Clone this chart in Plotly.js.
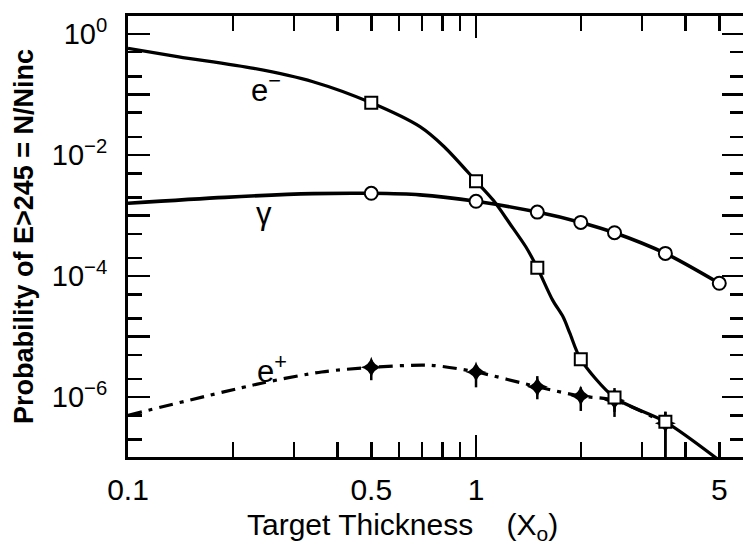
<!DOCTYPE html>
<html>
<head>
<meta charset="utf-8">
<script src="https://cdn.plot.ly/plotly-3.0.1.min.js"></script>
<style>
html,body{margin:0;padding:0;background:#fff;overflow:hidden;}
#chart{width:748px;height:546px;}
</style>
</head>
<body>
<div id="chart"></div>
<script>
// ---- data ----
// electron (e-) curve and data points
var eMinusCurveX = [0.1, 0.14, 0.23, 0.34, 0.5, 0.69, 0.81, 1, 1.12, 1.25, 1.39, 1.5, 1.66, 1.78, 1.86, 2.0, 2.5, 3.5, 5.0];
var eMinusCurveY = [0.58, 0.42, 0.27, 0.163, 0.073, 0.0294, 0.0137, 3.7e-3, 1.8e-3, 7.4e-4, 3.05e-4, 1.37e-4, 4e-5, 2.1e-5, 1.14e-5, 4.2e-6, 9.8e-7, 3.9e-7, 9e-8];
var eMinusX = [0.5, 1, 1.5, 2, 2.5, 3.5];
var eMinusY = [0.073, 3.7e-3, 1.37e-4, 4.2e-6, 9.8e-7, 3.9e-7];
var eMinusErrPlus = [0, 0, 0, 0, 4.3e-7, 1.8e-7];
var eMinusErrMinus = [0, 0, 0, 0, 4.1e-7, 3.9e-7];

// photon (gamma) curve and data points
var gammaCurveX = [0.1, 0.19, 0.34, 0.5, 0.69, 1, 1.5, 2, 2.5, 3.5, 5];
var gammaCurveY = [1.6e-3, 2.0e-3, 2.3e-3, 2.33e-3, 2.2e-3, 1.72e-3, 1.14e-3, 7.7e-4, 5.2e-4, 2.37e-4, 7.6e-5];
var gammaX = [0.5, 1, 1.5, 2, 2.5, 3.5, 5];
var gammaY = [2.33e-3, 1.72e-3, 1.14e-3, 7.7e-4, 5.2e-4, 2.37e-4, 7.6e-5];

// positron (e+) curve and data points
var ePlusCurveX = [0.1, 0.24, 0.36, 0.5, 0.74, 1, 1.5, 2, 2.5, 3.5];
var ePlusCurveY = [5.0e-7, 1.68e-6, 2.6e-6, 3.1e-6, 3.35e-6, 2.6e-6, 1.48e-6, 1.04e-6, 8.9e-7, 3.7e-7];
var ePlusX = [0.5, 1, 1.5, 2, 2.5, 3.5];
var ePlusY = [3.1e-6, 2.6e-6, 1.48e-6, 1.04e-6, 8.9e-7, 3.7e-7];
var ePlusErrPlus = [1.0e-6, 7.8e-7, 7.4e-7, 4.1e-7, 4.2e-7, 2.0e-7];
var ePlusErrMinus = [1.2e-6, 1.15e-6, 5.6e-7, 4.5e-7, 4.2e-7, 3.7e-7];

// ticks and labels
var xTickVals = [0.1, 0.5, 1, 5];
var xTickText = ['0.1', '0.5', '1', '5'];
var xLongTickVals = [1];
var xMinorTickVals = [0.2, 0.3, 0.4, 0.6, 0.7, 0.8, 0.9, 2, 3, 4];
var yTickVals = [1, 1e-2, 1e-4, 1e-6];
var yTickText = ['10<sup>0</sup>', '10<sup>\u22122</sup>', '10<sup>\u22124</sup>', '10<sup>\u22126</sup>'];
var yLongTickVals = [1e-1, 1e-3, 1e-5];
var yMinorTickVals = [0.5, 0.2, 0.05, 0.02, 5e-3, 2e-3, 5e-4, 2e-4, 5e-5, 2e-5, 5e-6, 2e-6, 5e-7, 2e-7];

var xTitle = 'Target Thickness\u00a0\u00a0\u00a0\u00a0(X<sub>o</sub>)';
var yTitle = '<b>Probability of E>245 = N/Ninc</b>';
var curveLabels = ['e<sup>\u2212</sup>', '\u03b3', 'e<sup>+</sup>'];

var FONT = '"Liberation Sans", Arial, Helvetica, sans-serif';

var traces = [
  {x: gammaCurveX, y: gammaCurveY, mode: 'lines', line: {color: '#000', width: 3.6, shape: 'spline', smoothing: 0.8}, hoverinfo: 'skip'},
  {x: eMinusCurveX, y: eMinusCurveY, mode: 'lines', line: {color: '#000', width: 3.2, shape: 'spline', smoothing: 0.8}, hoverinfo: 'skip'},
  {x: ePlusCurveX, y: ePlusCurveY, mode: 'lines', line: {color: '#000', width: 3.2, shape: 'spline', smoothing: 0.8, dash: '14px,7px,4px,7px'}, hoverinfo: 'skip'},
  {x: ePlusX, y: ePlusY, mode: 'markers', marker: {symbol: 'star-diamond', size: 15, color: '#000', line: {width: 0}},
   error_y: {type: 'data', symmetric: false, array: ePlusErrPlus, arrayminus: ePlusErrMinus, color: '#000', thickness: 2.5, width: 0}},
  {x: eMinusX, y: eMinusY, mode: 'markers', marker: {symbol: 'square', size: 12, color: '#fff', line: {color: '#000', width: 2}},
   error_y: {type: 'data', symmetric: false, array: eMinusErrPlus, arrayminus: eMinusErrMinus, color: '#000', thickness: 2.5, width: 0}},
  {x: gammaX, y: gammaY, mode: 'markers', marker: {symbol: 'circle', size: 13, color: '#fff', line: {color: '#000', width: 2}}},
  {x: [], y: [], xaxis: 'x2', yaxis: 'y2', mode: 'markers', showlegend: false},
  {x: [], y: [], xaxis: 'x3', yaxis: 'y3', mode: 'markers', showlegend: false}
];

var tickCommon = {ticks: 'inside', tickcolor: '#000', tickwidth: 2.5, showgrid: false, zeroline: false};
var xRange = [-1, 0.770];
var yRange = [-6.99, 0.2975];

function overlayX(vals, len) {
  return Object.assign({}, tickCommon, {type: 'log', range: xRange, overlaying: 'x', anchor: 'y', side: 'bottom',
    tickmode: 'array', tickvals: vals, ticklen: len, showticklabels: false, showline: false, mirror: 'ticks'});
}
function overlayY(vals, len) {
  return Object.assign({}, tickCommon, {type: 'log', range: yRange, overlaying: 'y', anchor: 'x', side: 'left',
    tickmode: 'array', tickvals: vals, ticklen: len, showticklabels: false, showline: false, mirror: 'ticks'});
}

var layout = {
  width: 748, height: 546,
  margin: {l: 128, r: 4, t: 16, b: 89},
  paper_bgcolor: '#fff', plot_bgcolor: '#fff',
  showlegend: false,
  font: {family: FONT, color: '#000'},
  xaxis: Object.assign({}, tickCommon, {
    type: 'log', range: xRange,
    tickmode: 'array', tickvals: xTickVals, ticktext: xTickText, ticklen: 15,
    showline: true, linewidth: 3, linecolor: '#000', mirror: 'ticks',
    tickfont: {size: 30, family: FONT},
    ticklabelstandoff: 4
  }),
  xaxis2: overlayX(xLongTickVals, 22),
  xaxis3: overlayX(xMinorTickVals, 15),
  yaxis: Object.assign({}, tickCommon, {
    type: 'log', range: yRange,
    tickmode: 'array', tickvals: yTickVals, ticktext: yTickText, ticklen: 22,
    showline: true, linewidth: 3, linecolor: '#000', mirror: 'ticks',
    tickfont: {size: 29, family: FONT},
    ticklabelstandoff: 12,
    title: {text: '\u00a0\u00a0\u00a0\u00a0' + yTitle, font: {size: 27, family: FONT}, standoff: 11}
  }),
  yaxis2: overlayY(yLongTickVals, 22),
  yaxis3: overlayY(yMinorTickVals, 14),
  annotations: [
    {xref: 'paper', yref: 'paper', x: 0.446, y: -0.157, xanchor: 'center', yanchor: 'middle', text: xTitle, showarrow: false, font: {size: 30, family: FONT}},
    {xref: 'paper', yref: 'paper', x: 0.224, y: 0.836, xanchor: 'center', yanchor: 'middle', text: curveLabels[0], showarrow: false, font: {size: 31, family: FONT}},
    {xref: 'paper', yref: 'paper', x: 0.221, y: 0.553, xanchor: 'center', yanchor: 'middle', text: curveLabels[1], showarrow: false, font: {size: 31, family: FONT}},
    {xref: 'paper', yref: 'paper', x: 0.234, y: 0.200, xanchor: 'center', yanchor: 'middle', text: curveLabels[2], showarrow: false, font: {size: 31, family: FONT}}
  ]
};

Plotly.newPlot('chart', traces, layout, {staticPlot: true, displayModeBar: false});
</script>
</body>
</html>
